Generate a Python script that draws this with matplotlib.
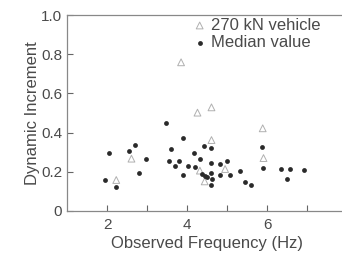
import matplotlib
matplotlib.use("Agg")
import matplotlib.pyplot as plt

# Median values (filled dots)
med_x = [1.94, 2.05, 2.22, 2.55, 2.69, 2.81, 2.97, 3.47, 3.55, 3.60, 3.70, 3.79,
         3.89, 3.89, 4.03, 4.17, 4.21, 4.32, 4.43, 4.38, 4.44, 4.51, 4.61, 4.61,
         4.61, 4.63, 4.61, 4.83, 5.01, 4.83, 5.08, 5.32, 5.44, 5.61, 5.87, 5.89,
         6.34, 6.49, 6.56, 6.92]
med_y = [0.160, 0.294, 0.122, 0.306, 0.337, 0.194, 0.265, 0.451, 0.255, 0.315, 0.231, 0.255,
         0.371, 0.182, 0.228, 0.294, 0.224, 0.267, 0.330, 0.189, 0.179, 0.172, 0.321, 0.247,
         0.192, 0.165, 0.134, 0.240, 0.255, 0.182, 0.185, 0.202, 0.146, 0.133, 0.328, 0.218,
         0.213, 0.165, 0.213, 0.207]

# 270 kN vehicle (open triangles)
veh_x = [2.23, 2.61, 3.85, 4.26, 4.61, 4.61, 4.32, 4.44, 4.95, 5.89, 5.91]
veh_y = [0.158, 0.267, 0.759, 0.502, 0.529, 0.362, 0.206, 0.151, 0.214, 0.422, 0.270]

plt.rcParams['font.family'] = ['Liberation Sans', 'DejaVu Sans']
txt = '#4a4a4a'

fig = plt.figure(figsize=(3.42, 2.56), dpi=100)
ax = fig.add_axes([0.196, 0.176, 0.819, 0.765])

ax.scatter(veh_x, veh_y, marker='^', s=24, facecolors='none',
           edgecolors='#b0b0b0', linewidths=0.7, label='270 kN vehicle')
ax.scatter(med_x, med_y, marker='o', s=12, color='#2a2a2a',
           linewidths=0, label='Median value')

ax.set_xlim(1, 8)
ax.set_ylim(0, 1.0)
ax.set_xticks([2, 3, 4, 5, 6, 7, 8])
ax.set_xticklabels(['2', '', '4', '', '6', '', '8'])
ax.set_yticks([0, 0.2, 0.4, 0.6, 0.8, 1.0])
ax.set_yticklabels(['0', '0.2', '0.4', '0.6', '0.8', '1.0'])
ax.tick_params(direction='in', length=4, width=0.8, colors='#666666',
               labelcolor=txt, labelsize=11)
ax.tick_params(axis='x', pad=5)

for s in ['top', 'left', 'bottom']:
    ax.spines[s].set_color('#888888')
    ax.spines[s].set_linewidth(0.9)
ax.spines['right'].set_visible(False)

ax.set_xlabel('Observed Frequency (Hz)', fontsize=12, color=txt, labelpad=3)
ax.set_ylabel('Dynamic Increment', fontsize=12, color=txt, labelpad=1)

ax.legend(loc='upper left', bbox_to_anchor=(0.42, 1.02), frameon=False,
          fontsize=12, labelcolor=txt, handletextpad=0.2,
          borderaxespad=0.0, labelspacing=0.15, handlelength=1.0)

fig.savefig('out.png', dpi=100)
